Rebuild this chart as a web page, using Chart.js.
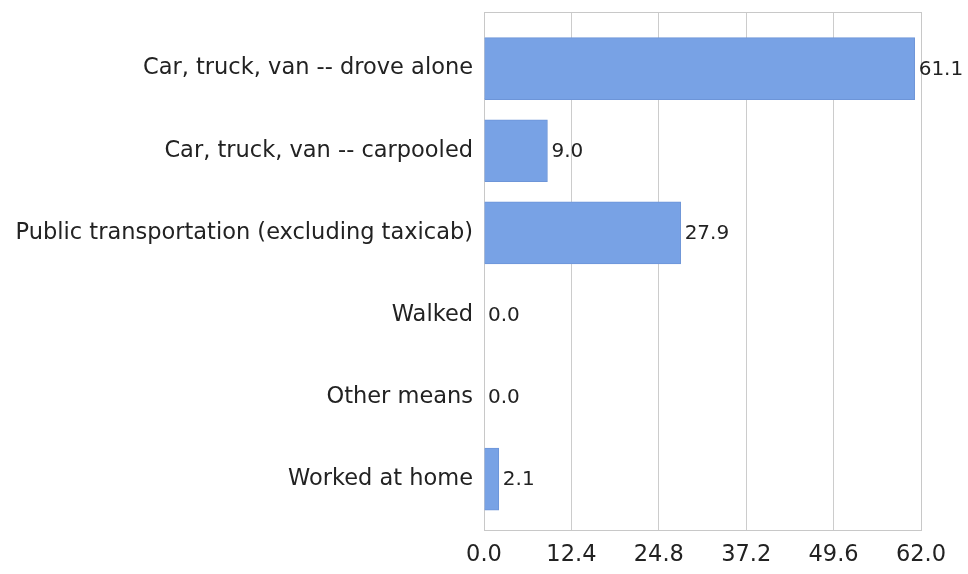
<!DOCTYPE html>
<html>
<head>
<meta charset="utf-8">
<script src="https://cdn.jsdelivr.net/npm/chart.js@4"></script>
<style>
  html, body { margin: 0; padding: 0; background: #fff; }
  #wrap { width: 968px; height: 574px; }
</style>
</head>
<body>
<div id="wrap"><canvas id="modeChart" width="968" height="574"></canvas></div>
<script>
// commute mode shares (%)
const categories = [
  'Car, truck, van -- drove alone',
  'Car, truck, van -- carpooled',
  'Public transportation (excluding taxicab)',
  'Walked',
  'Other means',
  'Worked at home'
];
const shares = [61.1, 9.0, 27.9, 0.0, 0.0, 2.1];
const xTicks = [0.0, 12.4, 24.8, 37.2, 49.6, 62.0];

const FONT = 'DejaVu Sans';

// value labels at the end of each bar
const valueLabels = {
  id: 'valueLabels',
  afterDatasetsDraw(chart) {
    const ctx = chart.ctx;
    const meta = chart.getDatasetMeta(0);
    ctx.save();
    ctx.font = '20px "' + FONT + '"';
    ctx.fillStyle = '#222';
    ctx.textAlign = 'left';
    ctx.textBaseline = 'middle';
    meta.data.forEach((bar, i) => {
      ctx.fillText(shares[i].toFixed(1), bar.x + 4, bar.y + 1);
    });
    ctx.restore();
  }
};

// plot box outline
const plotBox = {
  id: 'plotBox',
  beforeDatasetsDraw(chart) {
    const a = chart.chartArea;
    const ctx = chart.ctx;
    ctx.save();
    ctx.strokeStyle = '#c8c8c8';
    ctx.lineWidth = 1;
    ctx.strokeRect(Math.round(a.left) + 0.5, Math.round(a.top) + 0.5, Math.round(a.right - a.left), Math.round(a.bottom - a.top));
    ctx.restore();
  }
};

new Chart(document.getElementById('modeChart'), {
  type: 'bar',
  data: {
    datasets: [{
      data: shares.map((v, i) => ({ x: v, y: i })),
      backgroundColor: '#78a2e5',
      borderColor: '#6d95d8',
      borderWidth: 1,
      barThickness: 62
    }]
  },
  options: {
    indexAxis: 'y',
    responsive: false,
    animation: false,
    layout: { padding: { top: 12, right: 47, left: 0, bottom: 0 } },
    plugins: { legend: { display: false }, tooltip: { enabled: false } },
    scales: {
      x: {
        type: 'linear',
        min: 0, max: 62,
        afterBuildTicks: s => { s.ticks = xTicks.map(v => ({ value: v })); },
        afterFit: s => { s.height = 44; },
        grid: { color: '#cccccc', drawTicks: false },
        border: { color: '#c8c8c8' },
        ticks: {
          padding: 12,
          color: '#222',
          font: { family: FONT, size: 22.5 },
          callback: v => Number(v).toFixed(1)
        }
      },
      y: {
        type: 'linear',
        reverse: true,
        offset: false,
        min: -0.69, max: 5.62,
        afterBuildTicks: s => { s.ticks = categories.map((c, i) => ({ value: i })); },
        afterFit: s => { s.width = 484; s.paddingTop = 0; s.paddingBottom = 0; },
        grid: { display: false, drawTicks: false, offset: false },
        border: { color: '#c8c8c8' },
        ticks: {
          padding: 11,
          color: '#222',
          font: { family: FONT, size: 22.5 },
          callback: v => categories[v]
        }
      }
    }
  },
  plugins: [plotBox, valueLabels]
});
</script>
</body>
</html>
